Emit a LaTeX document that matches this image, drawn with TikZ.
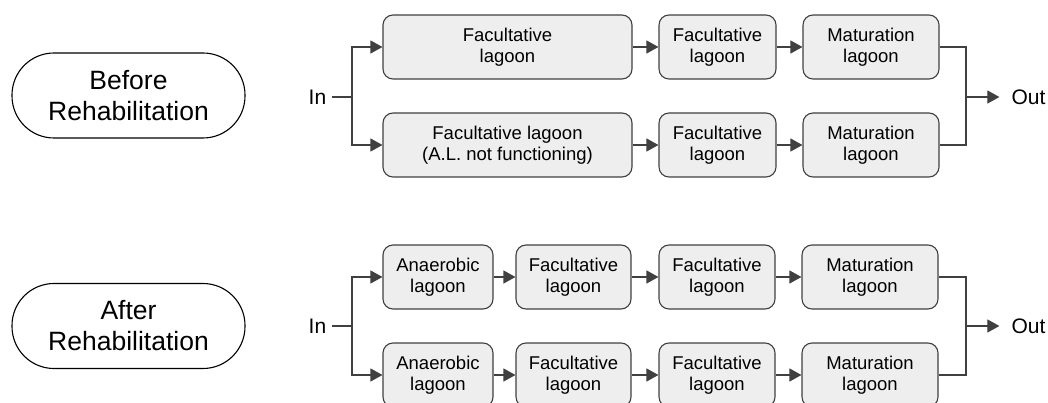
\documentclass[tikz,border=0pt]{standalone}
\usepackage{fontspec}
\setmainfont{Liberation Sans}
\usepackage{tikz}
\usetikzlibrary{arrows.meta, positioning, calc}
\definecolor{boxfill}{HTML}{EEEEEE}
\definecolor{lineg}{HTML}{404040}
\tikzset{
  lagoon/.style={draw=lineg, line width=1.1pt, fill=boxfill, rounded corners=10pt, minimum height=64pt,
    align=center, inner sep=0pt, font=\fontsize{18.5}{21}\selectfont},
  phase/.style={draw=black, line width=1.1pt, rounded corners=42pt, minimum width=233pt, minimum height=85pt,
    align=center, font=\fontsize{26.5}{31}\selectfont},
  port/.style={inner sep=3pt, font=\fontsize{21}{22}\selectfont},
  link/.style={draw=lineg, line width=1.2pt}
}

\begin{document}
\begin{tikzpicture}[x=1pt, y=-1pt, >={Triangle[length=12pt, width=13pt]}]
  \useasboundingbox (0,0) rectangle (1048,403);

  % Before rehabilitation
  \node[phase] (before) at (128.5,95.5) {Before\\Rehabilitation};
  \node[port] (inB) at (317.5,97) {In};
  \coordinate (jB) at (352,97);
  \coordinate (oB) at (966,97);
  \node[port] (outB) at (1028.5,97) {Out};

  \node[lagoon, minimum width=249pt] (b11) at (507.5,47) {Facultative\\lagoon};
  \node[lagoon, minimum width=117pt] (b12) at (717.5,47) {Facultative\\lagoon};
  \node[lagoon, minimum width=136pt] (b13) at (871,47) {Maturation\\lagoon};
  \node[lagoon, minimum width=249pt] (b21) at (507.5,145) {Facultative lagoon\\(A.L. not functioning)};
  \node[lagoon, minimum width=117pt] (b22) at (717.5,145) {Facultative\\lagoon};
  \node[lagoon, minimum width=136pt] (b23) at (871,145) {Maturation\\lagoon};

  \draw[link, shorten <=3pt] (inB.east) -- (jB);
  \draw[link, ->] (jB) |- (b11.west);
  \draw[link, ->] (jB) |- (b21.west);
  \draw[link, ->] (b11) -- (b12);
  \draw[link, ->] (b12) -- (b13);
  \draw[link, ->] (b21) -- (b22);
  \draw[link, ->] (b22) -- (b23);
  \draw[link] (b13.east) -| (oB) |- (b23.east);
  \draw[link, ->, shorten >=9pt] (oB) -- (outB.west);

  % After rehabilitation
  \node[phase] (after) at (128.5,326) {After\\Rehabilitation};
  \node[port] (inA) at (317.5,326) {In};
  \coordinate (jA) at (352,326);
  \coordinate (oA) at (966,326);
  \node[port] (outA) at (1028.5,326) {Out};

  \node[lagoon, minimum width=110pt] (c11) at (438,277) {Anaerobic\\lagoon};
  \node[lagoon, minimum width=115pt] (c12) at (573.5,277) {Facultative\\lagoon};
  \node[lagoon, minimum width=116pt] (c13) at (717,277) {Facultative\\lagoon};
  \node[lagoon, minimum width=136pt] (c14) at (870,277) {Maturation\\lagoon};
  \node[lagoon, minimum width=110pt] (c21) at (438,375) {Anaerobic\\lagoon};
  \node[lagoon, minimum width=115pt] (c22) at (573.5,375) {Facultative\\lagoon};
  \node[lagoon, minimum width=116pt] (c23) at (717,375) {Facultative\\lagoon};
  \node[lagoon, minimum width=136pt] (c24) at (870,375) {Maturation\\lagoon};

  \draw[link, shorten <=3pt] (inA.east) -- (jA);
  \draw[link, ->] (jA) |- (c11.west);
  \draw[link, ->] (jA) |- (c21.west);
  \foreach \row in {1,2} {
    \draw[link, ->] (c\row1) -- (c\row2);
    \draw[link, ->] (c\row2) -- (c\row3);
    \draw[link, ->] (c\row3) -- (c\row4);
  }
  \draw[link] (c14.east) -| (oA) |- (c24.east);
  \draw[link, ->, shorten >=9pt] (oA) -- (outA.west);
\end{tikzpicture}
\end{document}
